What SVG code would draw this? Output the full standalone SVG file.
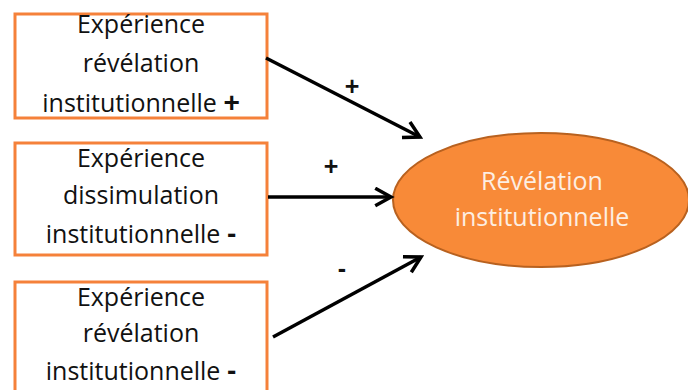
<svg xmlns="http://www.w3.org/2000/svg" width="688" height="390" viewBox="0 0 688 390">
<style>
.box{fill:#fff;stroke:#f5813a;stroke-width:3}
.t{font-family:"Open Sans","Liberation Sans",sans-serif;font-size:25px;fill:#111;text-anchor:middle}
.e{font-family:"Open Sans","Liberation Sans",sans-serif;font-size:25px;fill:#fdeee2;text-anchor:middle}
.c{stroke:#000;stroke-width:3.5;fill:none;marker-end:url(#ah)}
.s{font-family:"Liberation Sans",sans-serif;font-size:25px;font-weight:bold;fill:#111;text-anchor:middle}
.p{font-family:"Liberation Sans",sans-serif;font-size:28px;font-weight:bold}
</style>
<defs>
<marker id="ah" viewBox="0 0 12 12" refX="10" refY="6" markerWidth="6" markerHeight="6" orient="auto" markerUnits="strokeWidth">
<path d="M1,1 L10,6 L1,11" fill="none" stroke="#000" stroke-width="2"/>
</marker>
</defs>
<rect width="688" height="390" fill="#fff"/>
<g id="n1">
<rect class="box" x="15" y="14" width="252" height="104"/>
<text class="t" x="141" y="33">Expérience</text>
<text class="t" x="141" y="72">révélation</text>
<text class="t" x="141" y="112">institutionnelle <tspan class="p">+</tspan></text>
</g>
<g id="n2">
<rect class="box" x="15" y="143" width="252" height="112"/>
<text class="t" x="141" y="167">Expérience</text>
<text class="t" x="141" y="204">dissimulation</text>
<text class="t" x="141" y="243">institutionnelle <tspan class="p">-</tspan></text>
</g>
<g id="n3">
<rect class="box" x="15" y="282" width="252" height="110"/>
<text class="t" x="141" y="306">Expérience</text>
<text class="t" x="141" y="342">révélation</text>
<text class="t" x="141" y="380">institutionnelle <tspan class="p">-</tspan></text>
</g>
<g id="n4">
<ellipse cx="541" cy="200" rx="148" ry="67" fill="#f88a38" stroke="#b8611f" stroke-width="2"/>
<text class="e" x="542" y="190">Révélation</text>
<text class="e" x="542" y="226">institutionnelle</text>
</g>
<g id="connectors">
<line class="c" x1="266" y1="58" x2="420" y2="137"/>
<line class="c" x1="268" y1="197" x2="391" y2="197"/>
<line class="c" x1="273" y1="337" x2="421" y2="257"/>
<text class="s" x="352" y="95">+</text>
<text class="s" x="331" y="175">+</text>
<text class="s" x="342" y="277">-</text>
</g>
</svg>
